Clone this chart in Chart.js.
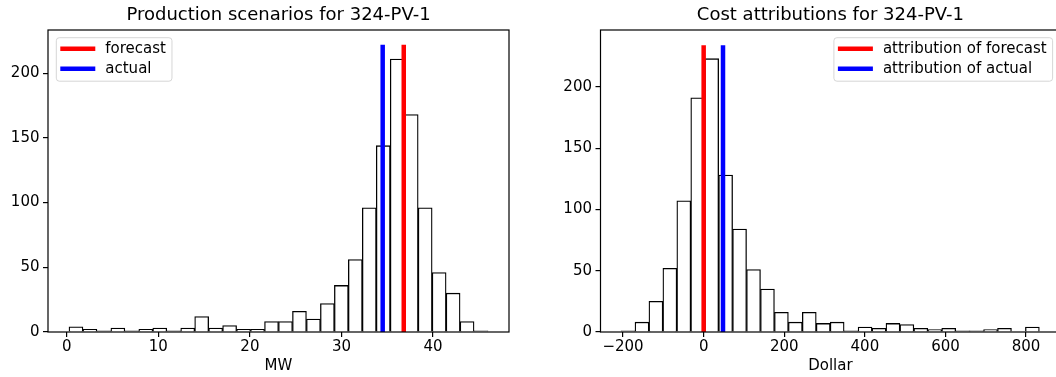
<!DOCTYPE html>
<html>
<head>
<meta charset="utf-8">
<script src="https://cdn.jsdelivr.net/npm/chart.js@4.4.0/dist/chart.umd.min.js"></script>
<style>
  html, body { margin: 0; padding: 0; background: #fff; overflow: hidden; width: 1056px; height: 377px; }
  canvas { position: absolute; top: 0; }
  #mw { left: 0; }
  #dollar { left: 528px; }
</style>
</head>
<body>
<canvas id="mw" width="528" height="377"></canvas>
<canvas id="dollar" width="540" height="377"></canvas>
<script>
// production scenarios (MW), 30 bins
const mwCounts = [4, 2, 1, 3, 1, 2, 3, 1, 3, 12, 3, 5, 2, 2, 8, 8, 16, 10, 22, 36, 56, 96, 144, 211, 168, 96, 46, 30, 8, 1];
const mwBinStart = 0.25, mwBinWidth = 1.525;
const mwTicks = [0, 10, 20, 30, 40];
const mwMarkers = [36.8, 34.5];          // forecast, actual
const mwMarkerTop = 222;

// cost attributions (Dollar), 30 bins
const dollarCounts = [1, 8, 25, 52, 107, 191, 223, 128, 84, 51, 35, 16, 8, 16, 7, 8, 1, 4, 3, 7, 6, 3, 2, 3, 1, 1, 2, 3, 0, 4];
const dollarBinStart = -205, dollarBinWidth = 34.6;
const dollarTicks = [-200, 0, 200, 400, 600, 800];
const dollarMarkers = [0, 48];           // attribution of forecast, attribution of actual
const dollarMarkerTop = 234;

const countTicks = [0, 50, 100, 150, 200];

Chart.defaults.font.family = '"DejaVu Sans", sans-serif';
Chart.defaults.font.size = 15;
Chart.defaults.color = '#000';

// matplotlib-ish axes frame + boxed legend inside the plot
const mplFrame = {
  id: 'mplFrame',
  afterDraw(chart, args, opts) {
    const { ctx, chartArea: a } = chart;
    ctx.save();
    ctx.strokeStyle = '#000';
    ctx.lineWidth = 1.2;
    ctx.strokeRect(a.left, a.top, a.right - a.left, a.bottom - a.top);

    const items = chart.data.datasets.filter(d => d.type === 'line');
    ctx.font = '15px "DejaVu Sans"';
    const textW = Math.max(...items.map(d => ctx.measureText(d.label).width));
    const w = 4 + 35 + 10 + textW + 6, h = 43.5;
    const x = opts.corner === 'right' ? a.right - 7.7 - w : a.left + 8.3;
    const y = a.top + 7.7;
    ctx.beginPath();
    ctx.roundRect(x, y, w, h, 3);
    ctx.fillStyle = 'rgba(255,255,255,0.8)';
    ctx.fill();
    ctx.strokeStyle = 'rgba(204,204,204,0.8)';
    ctx.lineWidth = 1;
    ctx.stroke();
    items.forEach((d, i) => {
      const cy = y + 11 + i * 20;
      ctx.strokeStyle = d.borderColor;
      ctx.lineWidth = 4.5;
      ctx.beginPath(); ctx.moveTo(x + 4, cy); ctx.lineTo(x + 39, cy); ctx.stroke();
      ctx.fillStyle = '#000';
      ctx.textBaseline = 'middle';
      ctx.textAlign = 'left';
      ctx.fillText(d.label, x + 49, cy);
    });
    ctx.restore();
  }
};

const fmtTick = v => v < 0 ? '\u2212' + (-v) : String(v);

function makeHist(id, cfg) {
  const bars = cfg.counts.map((c, i) => ({ x: cfg.binStart + (i + 0.5) * cfg.binWidth, y: c }));
  const markerColors = ['#ff0000', '#0000ff'];
  const markers = cfg.markers.map((v, i) => ({
    type: 'line', label: cfg.labels[i], order: 0,
    data: [{ x: v, y: 0 }, { x: v, y: cfg.markerTop }],
    borderColor: markerColors[i], borderWidth: 4.5, pointRadius: 0, fill: false
  }));
  const axisGrid = { display: true, offset: false, drawOnChartArea: false, drawTicks: true, tickLength: 5, color: '#000', lineWidth: 1.2 };
  new Chart(document.getElementById(id), {
    type: 'bar',
    data: {
      datasets: [
        ...markers,
        { type: 'bar', label: 'scenarios', order: 1, data: bars, backgroundColor: '#ffffff', borderColor: '#000000',
          borderWidth: 1.3, barPercentage: 1, categoryPercentage: 1, grouped: false }
      ]
    },
    plugins: [mplFrame],
    options: {
      responsive: false, animation: false, events: [],
      layout: { padding: { left: 0, right: cfg.padRight, top: 0, bottom: 0 } },
      plugins: {
        legend: { display: false }, tooltip: { enabled: false },
        title: { display: true, text: cfg.title, fullSize: false, font: { size: 18, weight: 'normal' }, color: '#000', padding: { top: 5, bottom: 3.4 } },
        mplFrame: { corner: cfg.legendCorner }
      },
      scales: {
        x: {
          type: 'linear', min: cfg.xMin, max: cfg.xMax, offset: false,
          grid: axisGrid, border: { display: false },
          ticks: { padding: 1, maxRotation: 0, callback: fmtTick },
          afterBuildTicks: s => { s.ticks = cfg.xTicks.map(v => ({ value: v })); },
          title: { display: true, text: cfg.xLabel, padding: { top: 0, bottom: 2 } },
          afterFit: s => { s.height = 45; }
        },
        y: {
          min: 0, max: cfg.yMax,
          grid: axisGrid, border: { display: false },
          ticks: { padding: 3.5 },
          afterBuildTicks: s => { s.ticks = countTicks.map(v => ({ value: v })); },
          afterFit: s => { s.width = cfg.yWidth; }
        }
      }
    }
  });
}

makeHist('mw', {
  title: 'Production scenarios for 324-PV-1', xLabel: 'MW',
  counts: mwCounts, binStart: mwBinStart, binWidth: mwBinWidth,
  markers: mwMarkers, markerTop: mwMarkerTop, labels: ['forecast', 'actual'],
  xTicks: mwTicks, xMin: -2.04, xMax: 48.29, yMax: 233.4,
  yWidth: 48, padRight: 19, legendCorner: 'left'
});

makeHist('dollar', {
  title: 'Cost attributions for 324-PV-1', xLabel: 'Dollar',
  counts: dollarCounts, binStart: dollarBinStart, binWidth: dollarBinWidth,
  markers: dollarMarkers, markerTop: dollarMarkerTop, labels: ['attribution of forecast', 'attribution of actual'],
  xTicks: dollarTicks, xMin: -256, xMax: 885, yMax: 246.4,
  yWidth: 72.5, padRight: 7.7, legendCorner: 'right'
});
</script>
</body>
</html>
